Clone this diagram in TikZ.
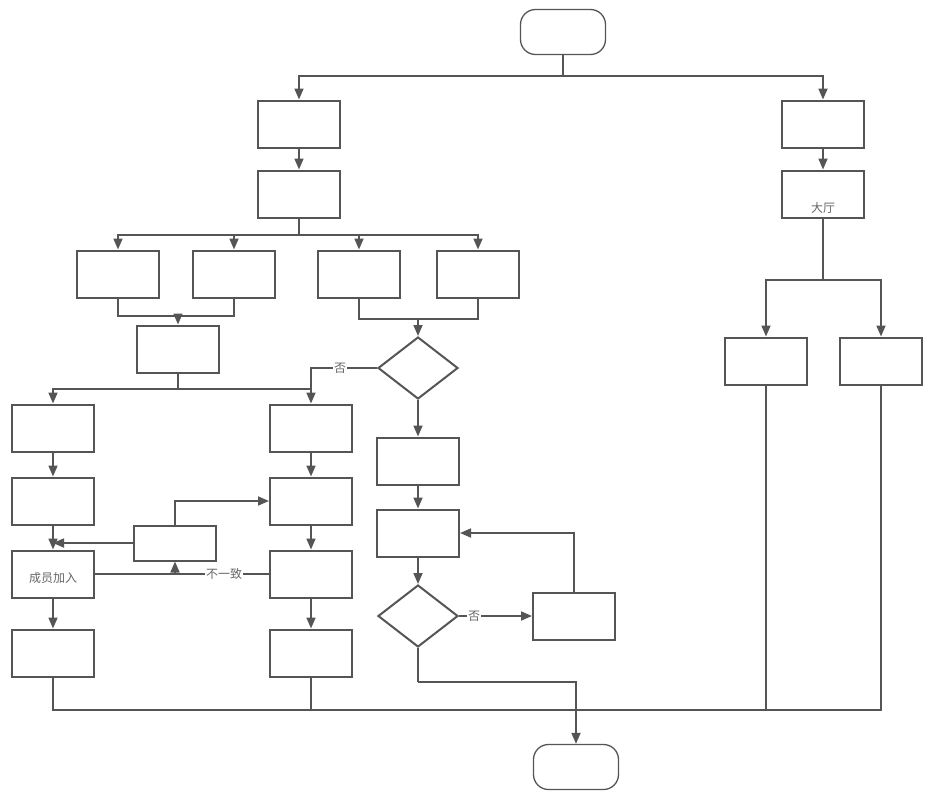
\documentclass[tikz,border=0pt]{standalone}
\usepackage{fontspec}
\newfontfamily\cjk{Noto Sans CJK SC}
\usetikzlibrary{shapes.geometric,arrows.meta}
\definecolor{linec}{HTML}{555555}
\definecolor{textc}{HTML}{666666}
\begin{document}
\begin{tikzpicture}[x=1pt,y=-1pt,
  box/.style={draw=linec,line width=2pt,fill=white,minimum width=82pt,minimum height=47pt,inner sep=1pt,
    font=\cjk\fontsize{12}{14}\selectfont,text=textc,align=center},
  smallbox/.style={box,minimum height=35pt},
  term/.style={draw=linec,line width=1.3pt,fill=white,rounded corners=15pt,minimum width=85pt,minimum height=45pt},
  dec/.style={draw=linec,line width=2pt,fill=white,diamond,minimum width=80pt,minimum height=62pt,inner sep=0pt},
  ln/.style={draw=linec,line width=1.7pt},
  arr/.style={ln,-{Triangle[length=11pt,width=9pt]}},
  lab/.style={fill=white,font=\cjk\fontsize{12}{14}\selectfont,text=textc,inner sep=1pt}]
\fill[white] (0,0) rectangle (930,793);
\useasboundingbox (0,0) rectangle (930,793);

% nodes
\node[term] (start) at (563,32) {};
\node[box] (A1) at (299,124) {};
\node[box] (A2) at (299,194) {};
\node[box] (R1) at (823,124) {};
\node[box] (R2) at (823,194) {};
\node[lab,fill=none] (R2t) at (823,208) {大厅};
\node[box] (B1) at (118,274) {};
\node[box] (B2) at (234,274) {};
\node[box] (B3) at (359,274) {};
\node[box] (B4) at (478,274) {};
\node[box] (C1) at (178,349) {};
\node[dec] (Q1) at (418,368) {};
\node[box] (D1) at (53,428) {};
\node[box] (D2) at (53,501) {};
\node[box] (D3) at (53,574) {};
\node[lab,fill=none] (D3t) at (53,578) {成员加入};
\node[box] (D4) at (53,653) {};
\node[box] (E1) at (311,428) {};
\node[box] (E2) at (311,501) {};
\node[box] (E3) at (311,574) {};
\node[box] (E4) at (311,653) {};
\node[smallbox] (H) at (175,543) {};
\node[box] (F1) at (418,461) {};
\node[box] (F2) at (418,533) {};
\node[dec] (Q2) at (418,616) {};
\node[box] (G) at (574,616) {};
\node[box] (I1) at (766,361) {};
\node[box] (I2) at (881,361) {};
\node[term] (end) at (576,767) {};

% junction coordinates
\coordinate (j0) at (563,76);
\coordinate (j1) at (299,235);
\coordinate (j2) at (178,316);
\coordinate (j3) at (178,389);
\coordinate (j4) at (418,319);
\coordinate (j5) at (311,389);
\coordinate (j6) at (175,574);
\coordinate (j7) at (823,280);
\coordinate (jH) at (53,543);
\coordinate (jq) at (418,682);
\coordinate (b1) at (53,710);
\coordinate (b2) at (881,710);
\coordinate (b3) at (311,710);
\coordinate (b4) at (766,710);

% connectors
\draw[ln] (start.south) -- (j0);
\draw[arr] (j0) -| (A1.north);
\draw[arr] (j0) -| (R1.north);
\draw[arr] (A1) -- (A2);
\draw[arr] (R1) -- (R2);
\draw[ln] (A2.south) -- (j1);
\draw[arr] (j1) -| (B1.north);
\draw[arr] (j1) -| (B2.north);
\draw[arr] (j1) -| (B3.north);
\draw[arr] (j1) -| (B4.north);
\draw[ln] (B1.south) |- (j2) -| (B2.south);
\draw[arr] (j2) -- (C1.north);
\draw[ln] (C1.south) -- (j3);
\draw[arr] (j3) -| (D1.north);
\draw[arr] (j3) -| (E1.north);
\draw[ln] (B3.south) |- (j4) -| (B4.south);
\draw[arr] (j4) -- (Q1.north);
\draw[ln] (Q1.west) -| (j5);
\node[lab] (no1) at (340,368) {否};

\draw[arr] (D1) -- (D2);
\draw[arr] (D2) -- (D3);
\draw[arr] (D3) -- (D4);
\draw[arr] (E1) -- (E2);
\draw[arr] (E2) -- (E3);
\draw[arr] (E3) -- (E4);
\draw[arr] (H.west) -- (jH);
\draw[arr] (H.north) |- (E2.west);
\draw[ln] (E3.west) -- (D3.east);
\draw[arr] (j6) -- (H.south);
\node[lab] (ne) at (224,574) {不一致};

\draw[arr] (Q1.south) -- (F1.north);
\draw[arr] (F1) -- (F2);
\draw[arr] (F2) -- (Q2);
\draw[arr] (Q2.east) -- (G.west);
\node[lab] (no2) at (474,616) {否};
\draw[arr] (G.north) |- (F2.east);
\draw[ln] (Q2.south) -- (jq);
\draw[arr] (jq) -| (end.north);

\draw[ln] (R2.south) -- (j7);
\draw[arr] (j7) -| (I1.north);
\draw[arr] (j7) -| (I2.north);

\draw[ln] (D4.south) -- (b1) -- (b2) -- (I2.south);
\draw[ln] (E4.south) -- (b3);
\draw[ln] (I1.south) -- (b4);
\end{tikzpicture}
\end{document}
